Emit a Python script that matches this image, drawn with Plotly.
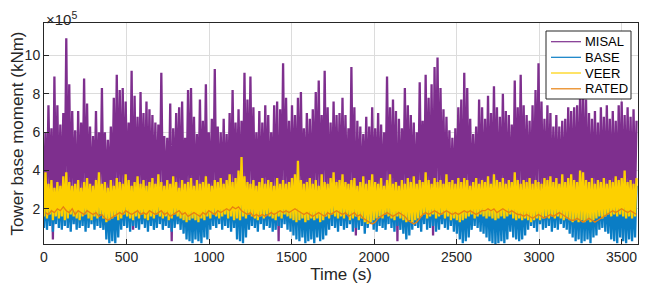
import plotly.graph_objects as go

# values in units of 1e4 kNm, one bin per ~18 s (per-bin max / min)
misal_hi = [60,74,62,89,74,64,70,109,85,71, 61,71,65,88,75,63,58,71,60,83,
            60,56,63,78,90,82,83,76,65,92, 79,68,81,70,76,72,69,65,64,91,
            58,57,75,62,70,73,76,57,82,83, 68,59,77,66,85,60,67,93,63,60,
            67,59,70,82,65,72,66,91,77,89, 73,60,71,65,74,69,60,74,76,72,
            96,78,66,74,69,78,81,62,70,67, 72,81,87,69,92,73,65,76,69,70,
            78,69,62,94,73,66,63,59,68,63, 73,62,70,64,60,89,73,77,71,67,
            62,83,74,69,65,60,86,66,90,78, 85,94,99,83,72,68,61,57,62,73,
            77,91,83,67,59,63,77,73,67,79, 70,84,73,68,80,71,69,64,87,73,
            90,74,69,66,74,82,96,76,67,74, 70,63,69,63,66,67,73,71,73,74,
            80,83,77,70,67,71,65,73,68,74, 67,71,66,74,76,69,73,68,72,66]
misal_lo = [26,24,28,4,25,23,27,26,22,24, 28,12,25,27,23,26,24,28,25,27,
            24,26,28,25,23,27,24,26,29,25, 9,26,24,27,25,23,26,28,24,25,
            27,25,24,3,26,28,23,25,27,24, 26,22,25,28,24,26,27,23,25,28,
            24,26,23,27,25,28,24,26,23,25, 27,24,26,22,25,28,24,27,25,3,
            26,24,27,25,28,23,26,24,27,25, 24,28,26,23,25,27,24,26,28,25,
            27,24,26,23,25,6,27,24,28,25, 26,24,27,23,25,28,26,24,27,3,
            25,27,24,26,28,23,25,27,24,26, 25,6,27,24,26,23,28,25,24,27,
            26,8,25,27,24,28,23,26,25,27, 24,26,28,23,25,27,24,26,23,25,
            27,24,26,28,25,23,27,24,26,25, 28,24,26,23,27,25,24,28,26,25,
            23,27,25,24,26,28,25,23,27,24, 26,25,28,24,26,23,27,25,24,26]
base_hi = [30,28,31,27,32,29,30,33,28,30, 29,31,27,30,32,28,30,29,33,28,
           30,27,29,31,28,30,29,32,30,28, 31,29,30,28,31,29,30,27,32,30,
           28,30,29,31,28,27,30,29,28,31, 29,30,28,29,32,30,29,31,30,32,
           30,31,33,30,32,35,42,33,30,29, 31,28,30,32,29,31,30,28,32,29,
           31,29,30,32,34,40,31,29,30,32, 29,31,28,33,30,29,32,34,30,31,
           33,30,29,31,32,28,30,33,29,31, 33,30,29,32,28,31,33,29,30,28,
           31,29,32,30,33,29,31,30,34,31, 29,32,30,31,29,33,30,31,29,32,
           30,32,31,28,30,32,29,31,30,33, 29,37,31,30,32,29,31,30,34,31,
           29,31,30,32,29,31,30,29,32,31, 33,30,32,29,34,30,32,33,31,30,
           35,34,31,30,32,29,31,30,32,29, 31,30,33,31,32,34,30,31,29,32]
base_lo = [10,9,11,8,12,10,9,11,10,8, 12,9,10,11,8,10,12,9,11,10,
           9,4,2,3,2,5,9,11,10,8, 11,10,9,12,10,8,11,9,10,12,
           9,11,10,8,10,12,9,7,4,3, 2,4,3,2,5,4,9,11,10,12,
           9,11,10,8,10,4,3,2,5,9, 11,10,8,12,9,11,10,8,9,11,
           10,12,9,8,6,4,3,5,2,3, 4,2,5,3,4,6,9,11,10,8,
           11,9,10,12,8,10,9,11,7,10, 12,9,8,11,10,9,12,10,8,11,
           9,7,4,6,9,11,10,8,12,9, 10,11,8,9,12,10,9,11,8,7,
           4,2,3,5,9,11,10,8,7,5, 3,2,1,2,3,2,4,8,5,4,
           3,4,6,9,11,10,8,12,9,10, 11,8,10,9,12,10,9,7,5,3,
           4,2,3,4,2,5,6,9,10,8, 7,4,3,2,5,3,2,4,3,5]
veer_hi = [39,33,35,31,34,32,37,39,34,32, 33,35,31,34,36,33,32,35,39,33,
           34,31,35,32,36,34,33,38,35,32, 34,37,33,35,32,34,36,33,38,34,
           32,35,33,37,34,31,35,33,34,36, 32,35,33,34,37,33,32,35,34,36,
           33,35,38,34,36,40,47,37,34,33, 35,32,34,36,33,35,34,32,36,33,
           35,33,34,36,38,45,35,33,34,36, 33,35,32,38,34,33,36,39,34,35,
           38,34,33,35,36,32,34,37,33,35, 38,34,33,36,32,35,38,33,34,32,
           35,33,36,34,37,33,35,34,39,35, 33,36,34,35,33,38,34,35,33,36,
           34,36,35,32,34,36,33,35,34,37, 33,38,35,34,36,33,35,34,39,35,
           33,35,34,36,33,35,34,33,36,35, 37,34,36,33,38,34,36,38,35,34,
           40,39,35,34,36,33,35,34,36,33, 35,34,37,35,36,40,34,35,33,36]
veer_lo = [16,15,17,14,16,15,16,14,15,17, 16,15,14,16,17,15,14,16,15,17,
           15,13,14,15,16,14,15,17,16,15, 14,16,15,17,15,14,16,15,17,16,
           15,16,14,15,17,16,15,14,13,14, 15,14,13,15,14,16,15,17,16,15,
           16,17,15,16,14,15,14,16,15,17, 16,15,14,16,15,17,16,15,14,16,
           15,17,16,15,14,13,14,15,13,14, 15,14,15,13,14,16,15,17,16,15,
           16,15,17,14,15,16,14,15,13,12, 13,14,15,16,15,17,16,15,14,16,
           15,14,13,14,13,14,15,16,17,15, 16,17,15,16,17,15,16,14,15,14,
           13,14,15,16,17,15,16,17,16,15, 16,15,14,15,16,15,16,17,15,14,
           15,14,15,14,13,14,15,14,15,16, 15,16,15,16,15,14,15,14,13,14,
           13,14,13,14,13,14,15,16,15,16, 17,16,17,16,17,16,15,16,15,16]
rated = [18,17,19,18,20,19,21,19,18,20, 17,19,18,17,19,18,17,18,16,17,
         15,14,15,16,17,18,17,19,18,17, 18,19,17,18,17,19,18,17,18,19,
         17,18,16,17,18,19,17,18,16,17, 18,17,16,18,17,19,18,17,19,18,
         19,20,19,21,20,21,19,18,17,18, 16,17,16,17,16,17,18,17,18,19,
         18,19,18,19,20,19,18,17,18,17, 16,17,18,17,16,18,17,18,19,18,
         17,18,16,17,18,16,17,15,14,13, 12,13,15,16,17,18,17,16,17,18,
         17,16,14,13,12,13,15,17,18,17, 18,19,18,17,18,19,18,17,18,17,
         18,19,18,19,18,17,18,19,19,20, 19,20,18,19,20,19,18,19,18,17,
         17,16,17,16,15,16,17,16,15,16, 17,16,17,18,17,16,15,14,14,15,
         14,13,14,15,14,13,14,15,16,17, 18,19,18,19,20,19,18,19,18,17]

UNIT = 1e4
t_end = 3600
x_ticks = [0, 500, 1000, 1500, 2000, 2500, 3000, 3500]
y_ticks = [2, 4, 6, 8, 10]

names = ["MISAL", "BASE", "VEER", "RATED"]
colors = {"MISAL": "#7E2F8E", "BASE": "#0A7DC5", "VEER": "#FDD000", "RATED": "#E8800F"}

n = len(misal_hi)
dt = t_end / n
t = [i * dt for i in range(n)]

fig = go.Figure()


def zigzag(hi, lo, name, width):
    xs, ys = [], []
    for i in range(n):
        xs += [t[i], t[i] + dt / 2]
        ys += [lo[i] * UNIT, hi[i] * UNIT]
    fig.add_trace(go.Scatter(x=xs, y=ys, mode="lines", name=name,
                             line=dict(color=colors[name], width=width),
                             showlegend=False, hoverinfo="skip"))


zigzag(misal_hi, misal_lo, "MISAL", 2.3)
zigzag(base_hi, base_lo, "BASE", 2.3)
zigzag(veer_hi, veer_lo, "VEER", 2.3)
fig.add_trace(go.Scatter(x=[ti + dt / 2 for ti in t], y=[v * UNIT for v in rated],
                         mode="lines", name="RATED",
                         line=dict(color=colors["RATED"], width=1.3),
                         showlegend=False))

# the page adds an 8 px body margin; figure is sized so that the plot area
# lands where the reference has it (page pixels 44..638 x 23..244)
OFF = 8
W, H = 648 - OFF, 290 - OFF
L, R, T, B = 44 - OFF, 638 - OFF, 23 - OFF, 244 - OFF


def px(x):  # page pixel -> paper x
    return (x - OFF - L) / (R - L)


def py(y):  # page pixel -> paper y
    return (B - (y - OFF)) / (B - T)


axis_col = "#262626"
grid_col = "#DCDCDC"

# legend box
fig.add_shape(type="rect", xref="paper", yref="paper",
              x0=px(546), x1=px(631), y0=py(99), y1=py(31),
              fillcolor="white", line=dict(color=axis_col, width=1), layer="above")
leg_y = [41.7, 57.3, 73.0, 88.8]
for nm, yy in zip(names, leg_y):
    fig.add_shape(type="line", xref="paper", yref="paper",
                  x0=px(551), x1=px(581), y0=py(yy), y1=py(yy),
                  line=dict(color=colors[nm], width=1.2), layer="above")
    fig.add_annotation(text=nm, xref="paper", yref="paper", x=px(582.5), y=py(yy),
                       xanchor="left", yanchor="middle", showarrow=False,
                       font=dict(size=13, color="black"))

fig.update_layout(
    width=W, height=H,
    margin=dict(l=L, r=W - R, t=T, b=H - B, pad=0),
    paper_bgcolor="white", plot_bgcolor="white",
    font=dict(family="Liberation Sans, Arial, sans-serif", size=14, color=axis_col),
    showlegend=False,
    xaxis=dict(range=[0, t_end], tickvals=x_ticks, ticktext=[str(v) for v in x_ticks],
               showgrid=True, gridcolor=grid_col, gridwidth=1,
               showline=True, linecolor=axis_col, linewidth=1, mirror=True,
               ticks="inside", ticklen=5, tickcolor=axis_col, zeroline=False,
               automargin=False, title=dict(text="Time (s)", standoff=2)),
    yaxis=dict(range=[0.16e5, 11.7e5], tickvals=[v * 1e5 for v in y_ticks],
               ticktext=[str(v) for v in y_ticks],
               showgrid=True, gridcolor=grid_col, gridwidth=1,
               showline=True, linecolor=axis_col, linewidth=1, mirror=True,
               ticks="inside", ticklen=5, tickcolor=axis_col, zeroline=False,
               automargin=False, title=dict(text="Tower base moment (kNm)", standoff=4)),
)
fig.add_annotation(text="×10<sup>5</sup>", xref="paper", yref="paper",
                   x=0.0, y=1.0, xanchor="left", yanchor="bottom", showarrow=False,
                   font=dict(size=15, color=axis_col), yshift=-7)

fig.write_html("out.html")
